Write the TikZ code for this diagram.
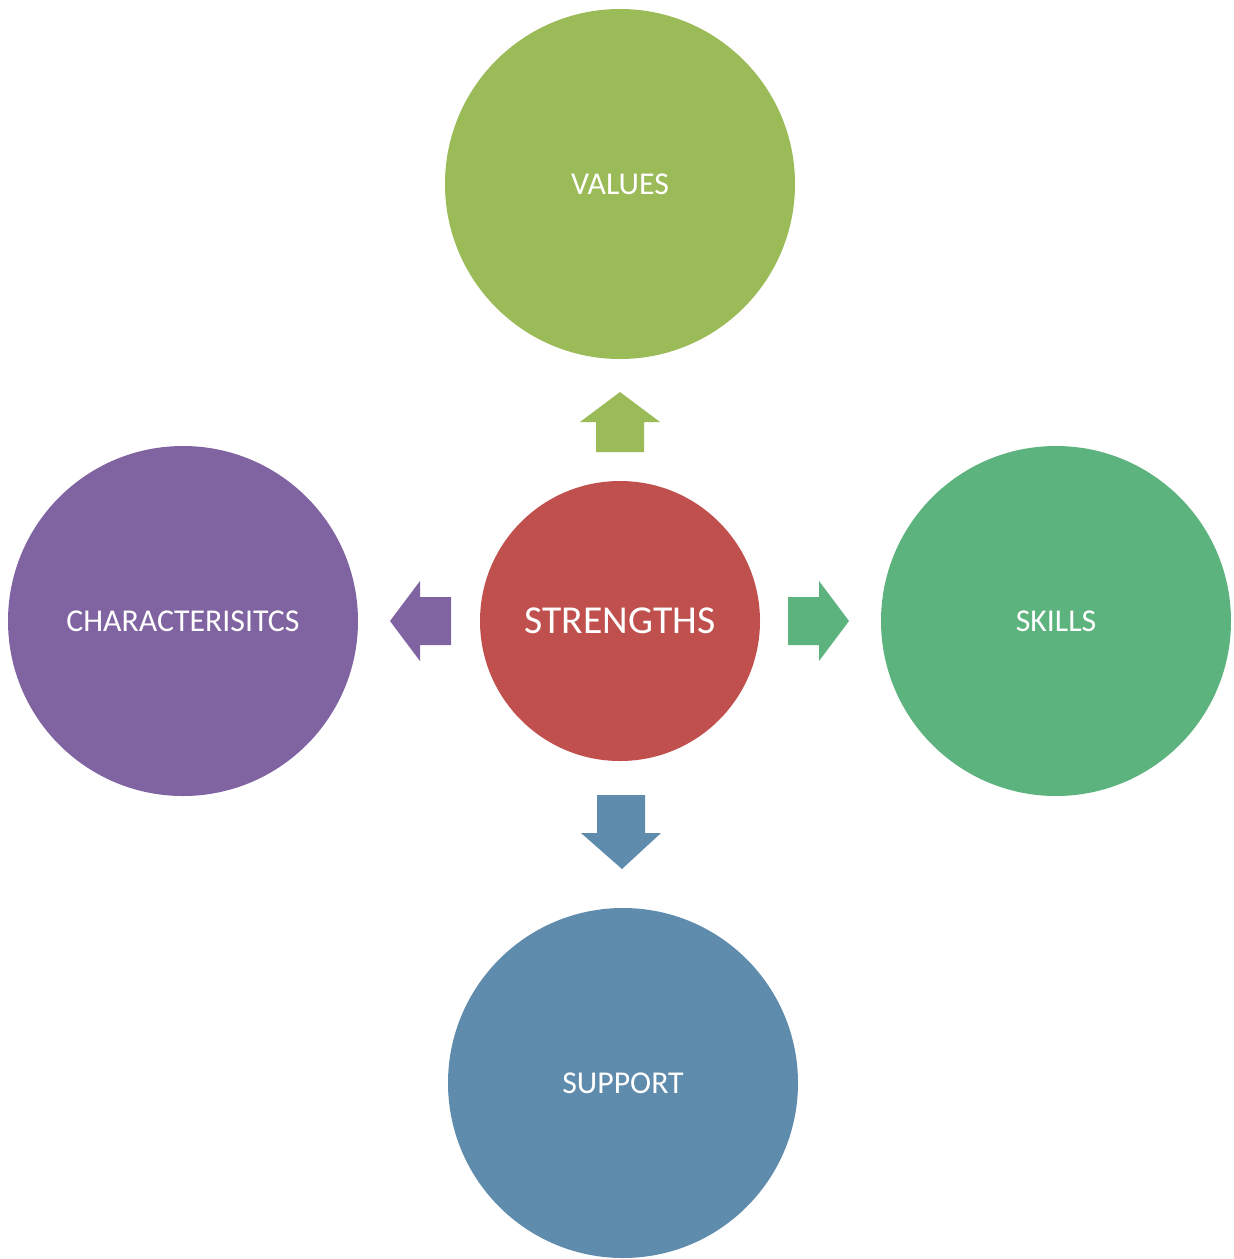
\documentclass[tikz,border=0pt]{standalone}
\usepackage{fontspec}
\setmainfont{Carlito}
\definecolor{cval}{HTML}{9BBB59}
\definecolor{cchar}{HTML}{8064A2}
\definecolor{cskill}{HTML}{5DB37E}
\definecolor{csup}{HTML}{5F8BAD}
\definecolor{cstr}{HTML}{C0504D}
\tikzset{
  bigcirc/.style={circle, inner sep=0pt, minimum size=175pt, text=white, font=\fontsize{15.9}{18}\selectfont},
  centercirc/.style={circle, inner sep=0pt, minimum size=140pt, fill=cstr, text=white, font=\fontsize{19.8}{22}\selectfont},
}
\begin{document}
\begin{tikzpicture}[x=0.5pt,y=-0.5pt]
\useasboundingbox (0,0) rectangle (1233,1259);
\node[bigcirc, fill=cval] (values) at (620,184) {VALUES};
\node[bigcirc, fill=cchar] (char) at (183,621) {CHARACTERISITCS};
\node[bigcirc, fill=cskill] (skills) at (1056,621) {SKILLS};
\node[bigcirc, fill=csup] (support) at (623,1083) {SUPPORT};
\node[centercirc] (str) at (620,621) {STRENGTHS};
% up arrow
\fill[cval] (596,452) -- (596,422) -- (580,422) -- (620,392) -- (660,422) -- (644,422) -- (644,452) -- cycle;
% left arrow
\fill[cchar] (451,597) -- (420,597) -- (420,581) -- (390,621) -- (420,661) -- (420,645) -- (451,645) -- cycle;
% right arrow
\fill[cskill] (788,597) -- (819,597) -- (819,581) -- (849,621) -- (819,661) -- (819,645) -- (788,645) -- cycle;
% down arrow
\fill[csup] (597,795) -- (645,795) -- (645,833) -- (661,833) -- (622,869) -- (581,833) -- (597,833) -- cycle;
\end{tikzpicture}
\end{document}
